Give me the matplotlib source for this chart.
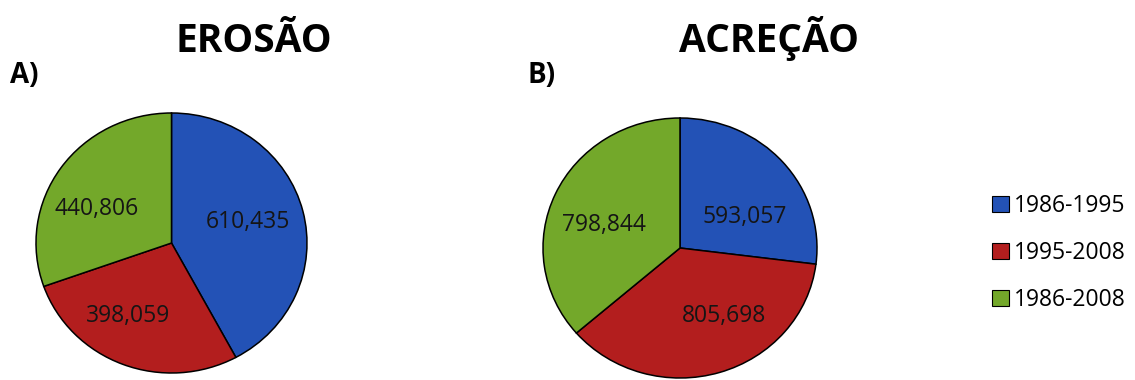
import matplotlib
matplotlib.use("Agg")
import matplotlib.pyplot as plt
from matplotlib.patches import Patch

plt.rcParams['font.family'] = ['Open Sans', 'DejaVu Sans']

periods = ["1986-1995", "1995-2008", "1986-2008"]
erosao = [610.435, 398.059, 440.806]
acrecao = [593.057, 805.698, 798.844]
colors = ["#2352B6", "#B31E1E", "#73A82A"]

W, H = 1135, 380
fig = plt.figure(figsize=(W / 100, H / 100), dpi=100)


def px_axes(x0, y0, x1, y1):
    """Axes from a pixel box given top-down (left, top, right, bottom)."""
    return fig.add_axes([x0 / W, (H - y1) / H, (x1 - x0) / W, (y1 - y0) / H])


def fmt(v):
    return f"{v:.3f}".replace(".", ",")


def draw_pie(ax, values, offsets):
    wedges, _ = ax.pie(values, colors=colors, startangle=90, counterclock=False,
                       wedgeprops=dict(edgecolor="black", linewidth=1.1))
    for w in wedges:
        w.set_clip_on(False)
    ax.set_xlim(-1, 1)
    ax.set_ylim(-1, 1)
    ax.set_aspect("auto")
    for v, (dx, dy) in zip(values, offsets):
        ax.text(dx, dy, fmt(v), ha="center", va="center",
                fontsize=16.5, color="#151515")
    return wedges


axA = px_axes(36, 113, 307, 373)
wedges = draw_pie(axA, erosao, [(0.565, 0.16), (-0.32, -0.56), (-0.55, 0.26)])

axB = px_axes(543, 118, 817, 378)
draw_pie(axB, acrecao, [(0.474, 0.24), (0.32, -0.52), (-0.555, 0.18)])

# titles and panel letters
fig.text(254 / W, (H - 52) / H, "EROSÃO", ha="center", va="baseline",
         fontsize=28, fontweight="bold")
fig.text(769 / W, (H - 52) / H, "ACREÇÃO", ha="center", va="baseline",
         fontsize=28, fontweight="bold")
fig.text(10 / W, (H - 83) / H, "A)", ha="left", va="baseline",
         fontsize=20, fontweight="bold")
fig.text(527 / W, (H - 83) / H, "B)", ha="left", va="baseline",
         fontsize=20, fontweight="bold")

handles = [Patch(facecolor=c, edgecolor="black", linewidth=0.8) for c in colors]
fig.legend(handles, periods, loc="center left",
           bbox_to_anchor=(983 / W, (H - 253) / H), frameon=False,
           fontsize=16.5, handlelength=0.75, handleheight=0.75,
           handletextpad=0.2, labelspacing=1.0, borderaxespad=0)

fig.savefig("out.png", dpi=100)
